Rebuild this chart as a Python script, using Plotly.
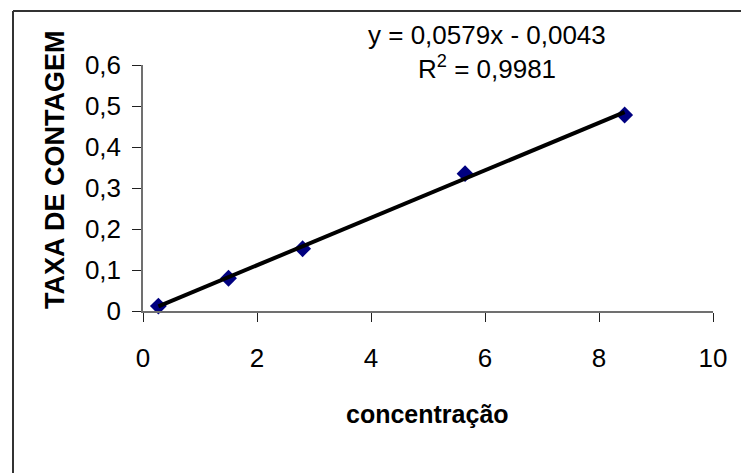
import numpy as np
import plotly.graph_objects as go

# Calibration points
concentracao = [0.27, 1.50, 2.80, 5.65, 8.45]
taxa_contagem = [0.012, 0.080, 0.152, 0.335, 0.478]

# Linear trendline coefficients (as printed in the equation label)
slope = 0.0579
intercept = -0.0043
r_squared = 0.9981

x_ticks = [0, 2, 4, 6, 8, 10]
y_ticks = [0, 0.1, 0.2, 0.3, 0.4, 0.5, 0.6]

W, H = 741, 473
ML, MR, MT, MB = 143, 28, 65, 162
PW, PH = W - ML - MR, H - MT - MB


def px(p):
    return (p - ML) / PW


def py(r):
    return (H - MB - r) / PH


trend_x = np.array([min(concentracao), max(concentracao)])
trend_y = slope * trend_x + intercept

fig = go.Figure()
fig.add_trace(go.Scatter(
    x=concentracao, y=taxa_contagem, mode="markers",
    marker=dict(symbol="diamond", size=13, color="#000080",
                line=dict(width=0)),
    showlegend=False, cliponaxis=False,
))
fig.add_trace(go.Scatter(
    x=trend_x, y=trend_y, mode="lines",
    line=dict(color="black", width=4),
    showlegend=False, cliponaxis=False,
))

font_family = "Liberation Sans, Arial, sans-serif"

fig.update_layout(
    width=W, height=H,
    margin=dict(l=ML, r=MR, t=MT, b=MB),
    paper_bgcolor="white", plot_bgcolor="white",
    separators=", ",
    font=dict(family=font_family, color="black"),
    xaxis=dict(
        range=[0, 10], tickvals=x_ticks, showgrid=False, zeroline=False,
        showline=True, linecolor="#707070", linewidth=1.5,
        ticks="outside", ticklen=9, tickcolor="#202020", tickwidth=1,
        tickfont=dict(size=26), ticklabelstandoff=14,
    ),
    yaxis=dict(
        range=[0, 0.6], tickvals=y_ticks, showgrid=False, zeroline=False,
        showline=True, linecolor="#707070", linewidth=1.5,
        ticks="outside", ticklen=9, tickcolor="#202020", tickwidth=1,
        tickfont=dict(size=26), ticklabelstandoff=6,
    ),
    shapes=[
        dict(type="line", xref="paper", yref="paper",
             x0=px(13), x1=px(W + 5), y0=py(11), y1=py(11),
             line=dict(color="#333333", width=2)),
        dict(type="line", xref="paper", yref="paper",
             x0=px(13), x1=px(13), y0=py(11), y1=py(H + 5),
             line=dict(color="#333333", width=2)),
    ],
    annotations=[
        dict(text="<b>concentração</b>", xref="paper", yref="paper",
             x=px(427), y=py(414), xanchor="center", yanchor="middle",
             showarrow=False, font=dict(size=25)),
        dict(text="<b>TAXA DE CONTAGEM</b>", xref="paper", yref="paper",
             x=px(55), y=py(170), xanchor="center", yanchor="middle",
             textangle=-90, showarrow=False, font=dict(size=27)),
        dict(text="y = 0,0579x - 0,0043", xref="paper", yref="paper",
             x=px(487), y=py(35), xanchor="center", yanchor="middle",
             showarrow=False, font=dict(size=26)),
        dict(text="R<sup>2</sup> = 0,9981", xref="paper", yref="paper",
             x=px(487), y=py(67), xanchor="center", yanchor="middle",
             showarrow=False, font=dict(size=26)),
    ],
)

fig.write_html("out.html")
